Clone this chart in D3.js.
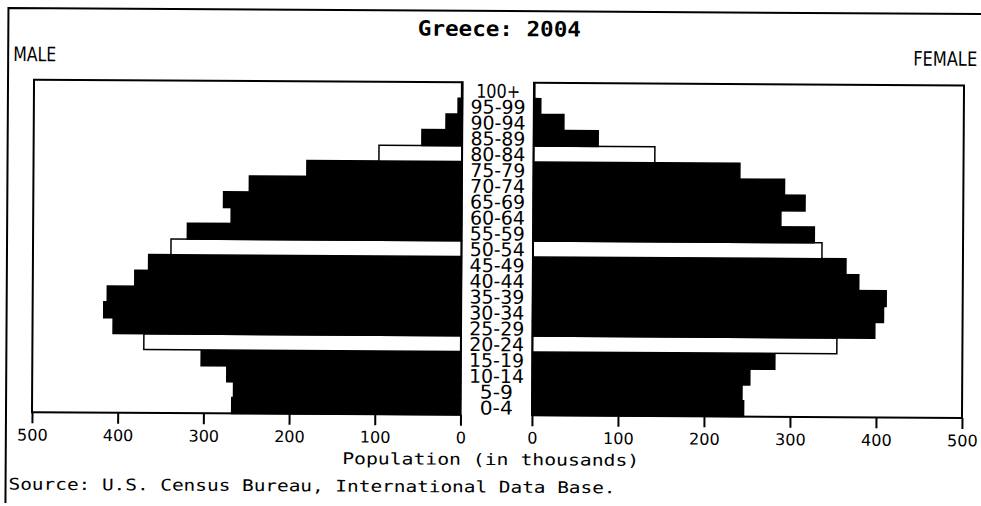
<!DOCTYPE html>
<html>
<head>
<meta charset="utf-8">
<script src="https://cdn.jsdelivr.net/npm/d3@7"></script>
<style>
  body { margin: 0; background: #fff; }
  svg { display: block; }
  text { fill: #000; }
</style>
</head>
<body>
<svg id="chart" width="981" height="506"></svg>
<script>
const ageGroups = ["0-4", "5-9", "10-14", "15-19", "20-24", "25-29", "30-34", "35-39", "40-44", "45-49",
  "50-54", "55-59", "60-64", "65-69", "70-74", "75-79", "80-84", "85-89", "90-94", "95-99", "100+"];

// thousands
const male = [267, 265, 273, 303, 370, 406, 417, 413, 381, 365, 339, 320, 269, 278, 248, 181, 97, 47, 19, 5, 1];
const female = [246, 244, 253, 282, 354, 398, 408, 411, 379, 364, 336, 327, 288, 316, 292, 240, 141, 75, 35, 8, 1];

// cohorts drawn hollow
const highlighted = ["20-24", "50-54", "80-84"];

const tickValues = [0, 100, 200, 300, 400, 500];

const svg = d3.select("#chart");

// the scan is tilted a little clockwise
const g = svg.append("g").attr("transform", "rotate(0.35 490 250)");

const plotTop = 82.5, plotBottom = 415;
const leftPanel = { x0: 33, x1: 461.5 };
const rightPanel = { x0: 533, x1: 963 };

const yScale = d3.scaleBand().domain(ageGroups).range([plotBottom, plotTop]).padding(0);
const xLeft = d3.scaleLinear().domain([500, 0]).range([leftPanel.x0, leftPanel.x1]);
const xRight = d3.scaleLinear().domain([0, 500]).range([rightPanel.x0, rightPanel.x1]);

// outer frame (only top and left edge visible)
g.append("path")
  .attr("d", "M7,506 L7,11 L985,11")
  .attr("fill", "none")
  .attr("stroke", "#000")
  .attr("stroke-width", 2);

g.append("text")
  .text("Greece: 2004")
  .attr("x", 498)
  .attr("y", 36)
  .attr("text-anchor", "middle")
  .attr("textLength", 163)
  .attr("lengthAdjust", "spacingAndGlyphs")
  .style("font-family", "'DejaVu Sans Mono', monospace")
  .style("font-weight", "bold")
  .style("font-size", "21px");

g.append("text")
  .text("MALE")
  .attr("x", 12)
  .attr("y", 64)
  .attr("textLength", 43)
  .attr("lengthAdjust", "spacingAndGlyphs")
  .style("font-family", "'DejaVu Sans', sans-serif")
  .style("font-size", "20px");

g.append("text")
  .text("FEMALE")
  .attr("x", 976)
  .attr("y", 63)
  .attr("text-anchor", "end")
  .attr("textLength", 64)
  .attr("lengthAdjust", "spacingAndGlyphs")
  .style("font-family", "'DejaVu Sans', sans-serif")
  .style("font-size", "20px");

function drawSide(values, x, panel, side) {
  g.append("g")
    .selectAll("rect")
    .data(values)
    .join("rect")
    .attr("x", d => side === "left" ? x(d) : x(0))
    .attr("width", d => side === "left" ? x(0) - x(d) : x(d) - x(0))
    .attr("y", (d, i) => yScale(ageGroups[i]))
    .attr("height", yScale.bandwidth())
    .attr("fill", (d, i) => highlighted.includes(ageGroups[i]) ? "#fff" : "#000")
    .attr("stroke", "#000")
    .attr("stroke-width", 1.5);

  g.append("rect")
    .attr("x", panel.x0)
    .attr("y", plotTop)
    .attr("width", panel.x1 - panel.x0)
    .attr("height", plotBottom - plotTop)
    .attr("fill", "none")
    .attr("stroke", "#000")
    .attr("stroke-width", 2);

  const axis = g.append("g")
    .attr("transform", "translate(0," + plotBottom + ")")
    .call(d3.axisBottom(x).tickValues(tickValues).tickSize(11).tickSizeOuter(0).tickPadding(6));

  axis.select(".domain").remove();
  axis.selectAll(".tick line").attr("stroke", "#000").attr("stroke-width", 2);
  axis.selectAll(".tick text")
    .attr("fill", "#000")
    .style("font-family", "'DejaVu Sans', sans-serif")
    .style("font-size", "16px");
}

drawSide(male, xLeft, leftPanel, "left");
drawSide(female, xRight, rightPanel, "right");

// age labels in the gap
g.append("g")
  .selectAll("text")
  .data(ageGroups)
  .join("text")
  .text(d => d)
  .attr("x", (leftPanel.x1 + rightPanel.x0) / 2)
  .attr("y", d => yScale(d) + yScale.bandwidth() - 0.5)
  .attr("text-anchor", "middle")
  .attr("textLength", d => d.length * 11)
  .attr("lengthAdjust", "spacingAndGlyphs")
  .style("font-family", "'DejaVu Sans', sans-serif")
  .style("font-size", "19px");

g.append("text")
  .text("Population (in thousands)")
  .attr("x", 492)
  .attr("y", 465)
  .attr("text-anchor", "middle")
  .attr("textLength", 297)
  .attr("lengthAdjust", "spacingAndGlyphs")
  .style("font-family", "'DejaVu Sans Mono', monospace")
  .style("font-size", "16px");

g.append("text")
  .text("Source: U.S. Census Bureau, International Data Base.")
  .attr("x", 10)
  .attr("y", 492.5)
  .attr("textLength", 607)
  .attr("lengthAdjust", "spacingAndGlyphs")
  .style("font-family", "'DejaVu Sans Mono', monospace")
  .style("font-size", "16px");
</script>
</body>
</html>
